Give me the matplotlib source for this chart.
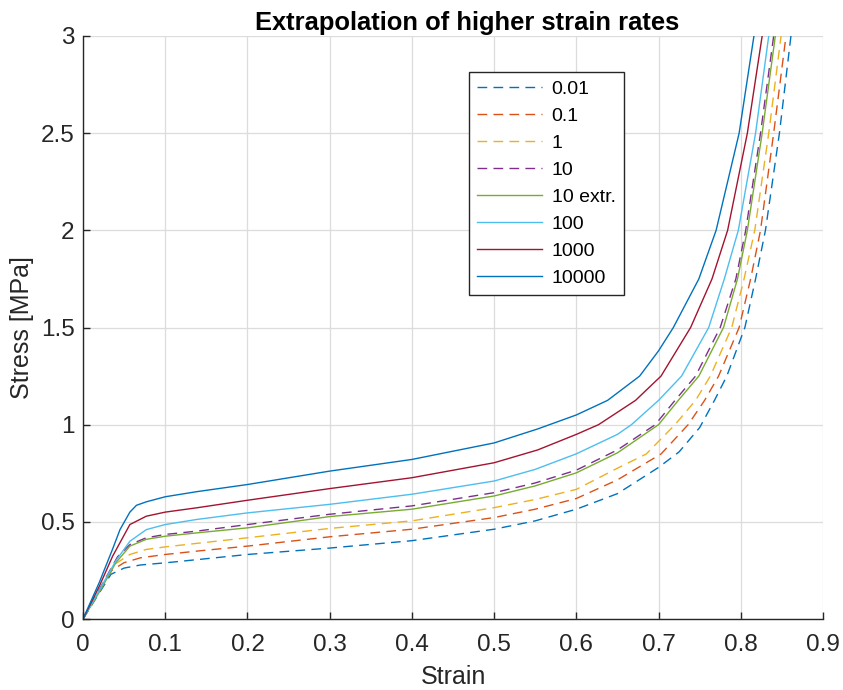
import numpy as np
import matplotlib
matplotlib.use('Agg')
import matplotlib.pyplot as plt

plt.rcParams['font.family'] = ['Liberation Sans', 'DejaVu Sans']

# rate labels and curves (strain, stress [MPa])
rates = ['0.01', '0.1', '1', '10', '10 extr.', '100', '1000', '10000']

strain_001 = [0, 0.034, 0.05, 0.07, 0.1, 0.14, 0.2, 0.3, 0.4, 0.5, 0.55, 0.6, 0.65, 0.7, 0.725, 0.75, 0.768, 0.783, 0.805, 0.818, 0.830, 0.847, 0.861]
stress_001 = [0, 0.23, 0.262, 0.278, 0.289, 0.306, 0.332, 0.365, 0.403, 0.462, 0.505, 0.565, 0.645, 0.78, 0.86, 0.985, 1.125, 1.25, 1.5, 1.75, 2.0, 2.5, 3.0]

strain_01 = [0, 0.035, 0.05, 0.07, 0.1, 0.14, 0.2, 0.3, 0.4, 0.5, 0.55, 0.6, 0.65, 0.703, 0.736, 0.756, 0.773, 0.798, 0.812, 0.824, 0.840, 0.855]
stress_01 = [0, 0.25, 0.29, 0.315, 0.332, 0.35, 0.375, 0.423, 0.462, 0.522, 0.565, 0.62, 0.716, 0.849, 1.0, 1.125, 1.25, 1.5, 1.75, 2.0, 2.5, 3.0]

strain_1 = [0, 0.038, 0.057, 0.077, 0.1, 0.138, 0.2, 0.3, 0.4, 0.5, 0.55, 0.6, 0.65, 0.685, 0.720, 0.745, 0.763, 0.789, 0.804, 0.817, 0.834, 0.849]
stress_1 = [0, 0.28, 0.332, 0.358, 0.371, 0.389, 0.418, 0.466, 0.505, 0.573, 0.615, 0.667, 0.776, 0.849, 1.0, 1.125, 1.25, 1.5, 1.75, 2.0, 2.5, 3.0]

strain_10 = [0, 0.042, 0.057, 0.077, 0.1, 0.138, 0.2, 0.3, 0.4, 0.5, 0.55, 0.6, 0.65, 0.696, 0.720, 0.745, 0.775, 0.794, 0.806, 0.824, 0.840]
stress_10 = [0, 0.32, 0.383, 0.418, 0.435, 0.452, 0.486, 0.539, 0.582, 0.65, 0.70, 0.766, 0.87, 1.0, 1.125, 1.25, 1.5, 1.75, 2.0, 2.5, 3.0]

strain_10x = [0, 0.02, 0.04, 0.057, 0.077, 0.1, 0.138, 0.2, 0.3, 0.4, 0.5, 0.55, 0.6, 0.65, 0.700, 0.724, 0.749, 0.779, 0.796, 0.808, 0.826, 0.842]
stress_10x = [0, 0.14, 0.29, 0.375, 0.41, 0.426, 0.443, 0.469, 0.527, 0.565, 0.633, 0.685, 0.752, 0.855, 1.0, 1.125, 1.25, 1.5, 1.75, 2.0, 2.5, 3.0]

strain_100 = [0, 0.02, 0.04, 0.057, 0.077, 0.1, 0.138, 0.2, 0.3, 0.4, 0.5, 0.55, 0.6, 0.65, 0.667, 0.700, 0.728, 0.761, 0.780, 0.797, 0.818, 0.834]
stress_100 = [0, 0.15, 0.30, 0.40, 0.46, 0.486, 0.512, 0.546, 0.59, 0.642, 0.71, 0.77, 0.85, 0.95, 1.0, 1.125, 1.25, 1.5, 1.75, 2.0, 2.5, 3.0]

strain_1000 = [0, 0.02, 0.036, 0.057, 0.077, 0.1, 0.138, 0.2, 0.3, 0.4, 0.5, 0.553, 0.6, 0.627, 0.672, 0.703, 0.739, 0.765, 0.784, 0.808, 0.826]
stress_1000 = [0, 0.17, 0.323, 0.486, 0.529, 0.55, 0.572, 0.611, 0.671, 0.727, 0.804, 0.87, 0.95, 1.0, 1.125, 1.25, 1.5, 1.75, 2.0, 2.5, 3.0]

strain_10000 = [0, 0.02, 0.036, 0.045, 0.057, 0.065, 0.077, 0.1, 0.138, 0.2, 0.3, 0.4, 0.5, 0.553, 0.6, 0.638, 0.677, 0.7, 0.718, 0.749, 0.770, 0.798, 0.816]
stress_10000 = [0, 0.19, 0.36, 0.46, 0.55, 0.585, 0.603, 0.629, 0.655, 0.692, 0.761, 0.821, 0.906, 0.978, 1.05, 1.125, 1.25, 1.38, 1.5, 1.75, 2.0, 2.5, 3.0]

xticks = [0, 0.1, 0.2, 0.3, 0.4, 0.5, 0.6, 0.7, 0.8, 0.9]
xticklabels = ['0', '0.1', '0.2', '0.3', '0.4', '0.5', '0.6', '0.7', '0.8', '0.9']
yticks = [0, 0.5, 1, 1.5, 2, 2.5, 3]
yticklabels = ['0', '0.5', '1', '1.5', '2', '2.5', '3']

curves = [(strain_001, stress_001), (strain_01, stress_01), (strain_1, stress_1),
          (strain_10, stress_10), (strain_10x, stress_10x), (strain_100, stress_100),
          (strain_1000, stress_1000), (strain_10000, stress_10000)]
colors = ['#0072BD', '#D95319', '#EDB120', '#7E2F8E', '#77AC30', '#4DBEEE', '#A2142F', '#0072BD']
dashed = [True, True, True, True, False, False, False, False]

fig = plt.figure(figsize=(8.43, 6.9), dpi=100)
ax = fig.add_axes([83/843, 1-619/690, 740/843, 583/690])

for (xs, ys), c, d, lab in zip(curves, colors, dashed, rates):
    if d:
        ax.plot(xs, ys, color=c, lw=1.0, dashes=(7, 4.5), label=lab)
    else:
        ax.plot(xs, ys, color=c, lw=1.0, label=lab)

ax.set_xlim(0, 0.9)
ax.set_ylim(0, 3)
ax.set_xticks(xticks)
ax.set_xticklabels(xticklabels)
ax.set_yticks(yticks)
ax.set_yticklabels(yticklabels)
ax.grid(True, color='#dcdcdc', lw=0.9)
ax.set_axisbelow(True)
for s in ['top', 'right']:
    ax.spines[s].set_visible(False)
for s in ['left', 'bottom']:
    ax.spines[s].set_color('#262626')
    ax.spines[s].set_linewidth(1.0)
ax.tick_params(direction='in', length=5, width=1.0, colors='#262626', labelsize=17.5)
ax.tick_params(axis='x', pad=11)
ax.tick_params(axis='y', pad=6)

ax.set_xlabel('Strain', fontsize=18, color='#262626', labelpad=6)
ax.set_ylabel('Stress [MPa]', fontsize=18, color='#262626', labelpad=5)
ax.set_title('Extrapolation of higher strain rates', fontsize=18.4, fontweight='bold',
             x=0.519, pad=4)

leg = ax.legend(loc='upper left', bbox_to_anchor=(0.521, 0.938), fontsize=14,
                frameon=True, fancybox=False, edgecolor='#262626', framealpha=1,
                handlelength=3.35, handletextpad=0.5, labelspacing=0.48, borderpad=0.42,
                borderaxespad=0)
leg.get_frame().set_linewidth(1.0)

fig.savefig('out.png', dpi=100)
